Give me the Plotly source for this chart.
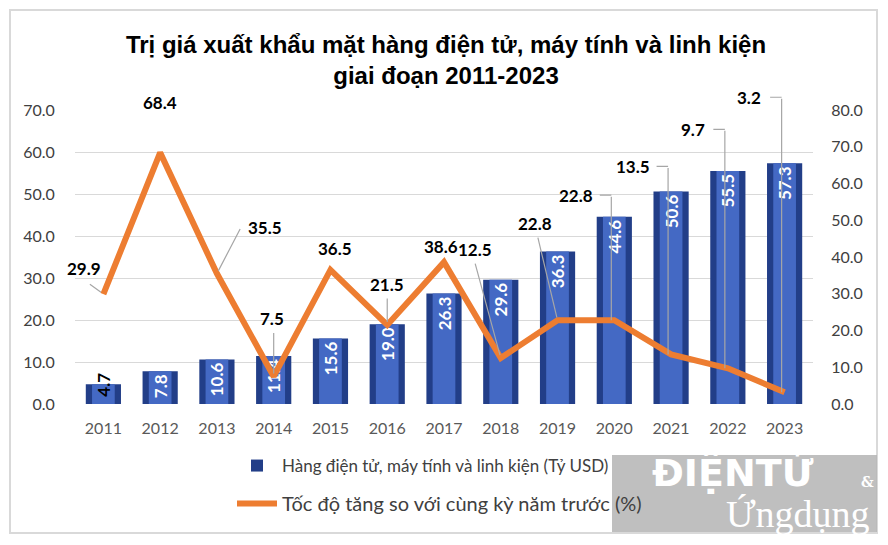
import plotly.graph_objects as go

# data
years = ["2011", "2012", "2013", "2014", "2015", "2016", "2017",
         "2018", "2019", "2020", "2021", "2022", "2023"]
export_value = [4.7, 7.8, 10.6, 11.4, 15.6, 19.0, 26.3, 29.6, 36.3, 44.6, 50.6, 55.5, 57.3]
growth_rate = [29.9, 68.4, 35.5, 7.5, 36.5, 21.5, 38.6, 12.5, 22.8, 22.8, 13.5, 9.7, 3.2]

bar_name = "Hàng điện tử, máy tính và linh kiện (Tỷ USD)"
line_name = "Tốc độ tăng so với cùng kỳ năm trước (%)"
title_text = "Trị giá xuất khẩu mặt hàng điện tử, máy tính và linh kiện<br>giai đoạn 2011-2023"

# label placement, px from the line point: (dx, dy, leader kind, leader tail dx, tail dy)
label_style = [
    (-19, -26, "straight", -15, -11),
    (0, -50, "none", 0, 0),
    (48, -46, "straight", 24, -46),
    (-2, -58, "straight", 0, -45),
    (5, -21, "none", 0, 0),
    (0, -40, "straight", 0, -28),
    (-3, -16, "none", 0, 0),
    (-26, -109, "straight", -26, -96),
    (-23, -97, "straight", -20, -84),
    (-38, -125, "elbow", 0, 0),
    (-38, -188, "elbow", 0, 0),
    (-35, -239, "elbow", 0, 0),
    (-36, -295, "elbow", 0, 0),
]

# plot area in screenshot pixels; the page body adds an 8px offset
PL, PR, PT, PB = 75, 813, 110, 404
OFF = 8
W, H = 888, 545
GREY = "#A6A6A6"


def px(x):
    return (x - PL) / (PR - PL)


def py(y):
    return (PB - y) / (PB - PT)


fig = go.Figure()

fig.add_trace(go.Bar(x=years, y=export_value, width=0.62, name=bar_name,
                     marker=dict(color="#223E88", line=dict(width=0)),
                     legend="legend", hoverinfo="skip"))
fig.add_trace(go.Bar(x=years, y=export_value, width=0.40, showlegend=False,
                     marker=dict(color="#4469C4", line=dict(width=0)),
                     text=[""] + [f"{v:.1f}" for v in export_value[1:]], textangle=-90,
                     textposition="inside", insidetextanchor="end", cliponaxis=False,
                     textfont=dict(family="Lato", size=17, weight="bold", color="white")))
fig.add_trace(go.Scatter(x=years, y=growth_rate, yaxis="y2", mode="lines", name=line_name,
                         line=dict(color="#ED7D31", width=6), legend="legend2"))

annotations = []
# first bar is too short for its label, so it sits over the bar in black
annotations.append(dict(x=0, y=export_value[0], xref="x", yref="y", text=f"{export_value[0]:.1f}",
                        textangle=-90, showarrow=False, xanchor="center", yanchor="middle",
                        font=dict(family="Lato", size=17, weight="bold", color="black")))

for i, (val, (dx, dy, kind, tx, ty)) in enumerate(zip(growth_rate, label_style)):
    annotations.append(dict(x=i, y=val, xref="x", yref="y2", text=f"{val:.1f}",
                            showarrow=False, xshift=dx, yshift=-dy,
                            xanchor="center", yanchor="middle",
                            font=dict(family="Lato", size=17, weight="bold", color="black")))
    if kind == "straight":
        annotations.append(dict(x=i, y=val, xref="x", yref="y2", text="", showarrow=True,
                                ax=tx, ay=ty, arrowhead=0, arrowwidth=1.2,
                                arrowcolor=GREY, standoff=3))
    elif kind == "elbow":
        annotations.append(dict(x=i, y=val, xref="x", yref="y2", text="", showarrow=True,
                                xshift=-3, ax=0, ay=dy, arrowhead=0, arrowwidth=1.2,
                                arrowcolor=GREY, standoff=0))
        annotations.append(dict(x=i, y=val, xref="x", yref="y2", text="", showarrow=True,
                                xshift=-3, yshift=-dy, ax=-13, ay=0, arrowhead=0,
                                arrowwidth=1.2, arrowcolor=GREY, standoff=0))

# watermark
annotations.append(dict(x=px(733), y=py(471), xref="paper", yref="paper", text="ĐIỆNTỬ",
                        showarrow=False, xanchor="center", yanchor="middle",
                        font=dict(family="DejaVu Sans", size=38, weight="bold", color="white")))
annotations.append(dict(x=px(867), y=py(482), xref="paper", yref="paper", text="&",
                        showarrow=False, xanchor="center", yanchor="middle",
                        font=dict(family="DejaVu Serif", size=14, weight="bold", color="white")))
annotations.append(dict(x=px(797), y=py(514), xref="paper", yref="paper", text="Ứngdụng",
                        showarrow=False, xanchor="center", yanchor="middle",
                        font=dict(family="Liberation Serif", size=38, color="white")))

shapes = [
    dict(type="rect", xref="paper", yref="paper", x0=px(10), x1=px(877), y0=py(533), y1=py(10),
         line=dict(color="#D9D9D9", width=2), layer="below"),
    dict(type="rect", xref="paper", yref="paper", x0=px(612), x1=px(877), y0=py(532), y1=py(455),
         fillcolor="rgba(180,180,180,0.85)", line=dict(width=0), layer="above"),
]

fig.update_layout(
    width=W, height=H,
    margin=dict(l=PL - OFF, r=W - PR + OFF, t=PT - OFF, b=H - PB + OFF, autoexpand=False),
    paper_bgcolor="white", plot_bgcolor="white",
    barmode="overlay",
    uniformtext=dict(minsize=17, mode="show"),
    title=dict(text=title_text, x=(446 - OFF) / W, xanchor="center", y=1 - 45 / H,
               yanchor="top", yref="container",
               font=dict(family="Liberation Sans, Arial, sans-serif", size=24,
                         weight="bold", color="black")),
    xaxis=dict(type="category", range=[-0.5, 12.5], showgrid=False, zeroline=False,
               ticks="outside", ticklen=10, tickcolor="rgba(0,0,0,0)",
               tickfont=dict(family="Lato", size=16, color="#595959")),
    yaxis=dict(range=[0, 70], tickvals=list(range(0, 71, 10)), tickformat=".1f",
               showgrid=True, gridcolor="#D9D9D9", gridwidth=1, zeroline=False,
               ticks="outside", ticklen=16, tickcolor="rgba(0,0,0,0)",
               tickfont=dict(family="Lato", size=16, color="#404040")),
    yaxis2=dict(range=[0, 80], tickvals=list(range(0, 81, 10)), tickformat=".1f",
                overlaying="y", side="right", showgrid=False, zeroline=False,
                ticks="outside", ticklen=14, tickcolor="rgba(0,0,0,0)",
                tickfont=dict(family="Lato", size=16, color="#404040")),
    legend=dict(x=px(232), y=py(448), xanchor="left", yanchor="top",
                itemwidth=40, font=dict(family="Lato", size=17, color="#404040"),
                bgcolor="rgba(0,0,0,0)"),
    legend2=dict(x=px(232), y=py(484), xanchor="left", yanchor="top",
                 itemwidth=40, font=dict(family="Lato", size=20, color="#404040"),
                 bgcolor="rgba(0,0,0,0)"),
    annotations=annotations,
    shapes=shapes,
)

fig.write_html("out.html")
